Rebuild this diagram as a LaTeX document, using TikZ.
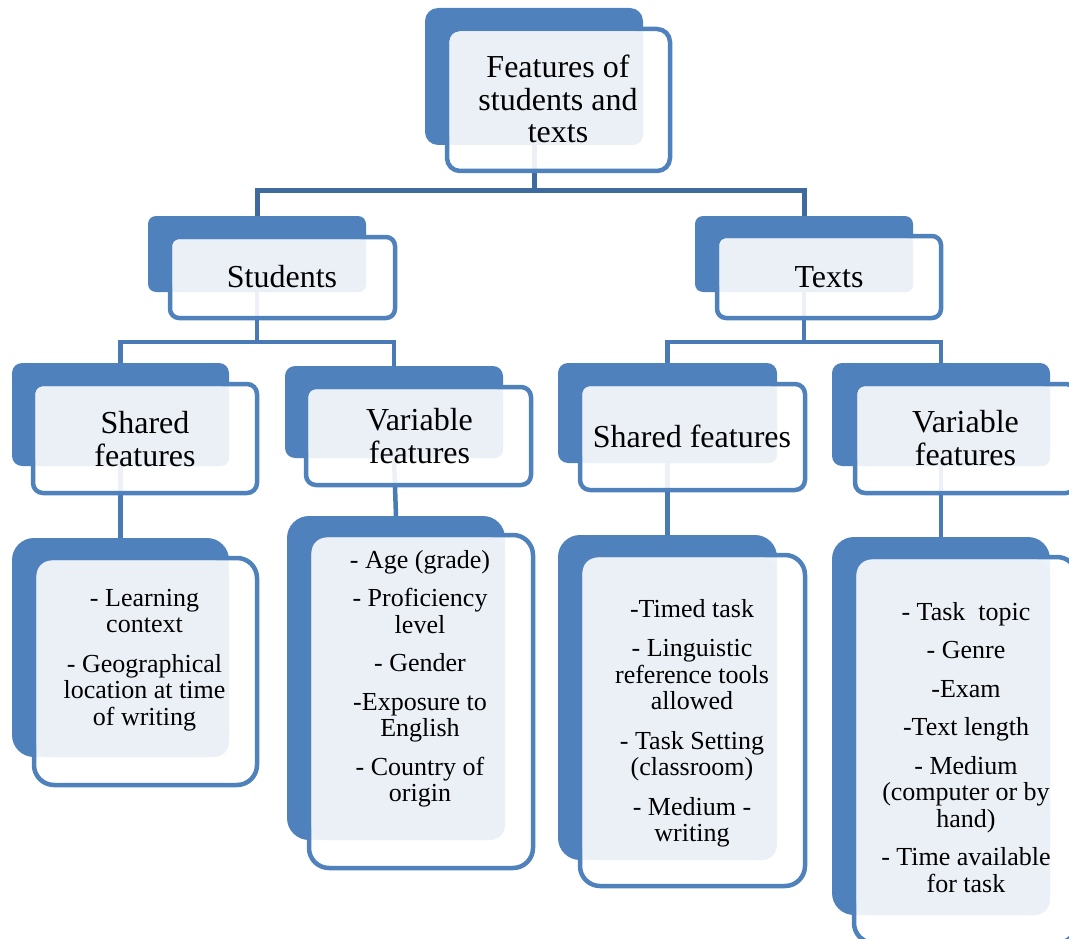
\documentclass[tikz,border=0pt]{standalone}
\usepackage{fontspec}
\setmainfont{Liberation Serif}
\usetikzlibrary{fit,backgrounds}
\definecolor{blueA}{HTML}{4F81BD}
\definecolor{lightA}{HTML}{EBF0F7}
\definecolor{connD}{HTML}{3E6A9E}
\definecolor{connL}{HTML}{4A7AB5}
\begin{document}
\begin{tikzpicture}[x=1pt,y=-1pt,
  backbox/.style={fill=blueA, inner sep=0pt, outer sep=0pt, rounded corners=#1},
  frontbox/.style={draw=blueA, line width=4.5pt, fill=white, fill opacity=0.9, inner sep=0pt, outer sep=0pt, rounded corners=#1},
  lightbox/.style={fill=lightA, inner sep=0pt, outer sep=0pt, rounded corners=#1},
  lvlA/.style={font=\fontsize{32}{32.5}\selectfont, align=center, inner sep=0pt, anchor=north},
  lvlB/.style={font=\fontsize{32}{33.5}\selectfont, align=center, inner sep=0pt, anchor=north},
  lvlC/.style={font=\fontsize{26}{26.5}\selectfont, align=center, inner sep=0pt, anchor=north},
  connA/.style={draw=connD, line width=5pt},
  connB/.style={draw=connL, line width=4.5pt}]
\useasboundingbox (0,0) rectangle (1069,939);
\clip (0,0) rectangle (1069,939);
\coordinate (h1) at (0,191);
\coordinate (h2) at (0,342);
% level 1
\node[backbox=13pt, fit={(425,8)(643,145)}] (top) {};
\node[frontbox=13pt, fit={(447,29)(670,171)}] (topF) {};
\node[lightbox=10pt, fit={(449.5,31.5)(643,145)}] (topL) {};
\node[lvlA] (topT) at (558,55) {Features of\\students and\\texts};
% level 2
\node[backbox=8pt, fit={(148,216)(366,292)}] (stud) {};
\node[frontbox=9pt, fit={(170,237)(395,318)}] (studF) {};
\node[lightbox=7pt, fit={(172.5,239.5)(366,292)}] (studL) {};
\node[lvlB] (studT) at (282,265) {Students};
\node[backbox=8pt, fit={(695,216)(913,292)}] (texts) {};
\node[frontbox=9pt, fit={(717,236)(941,318)}] (textsF) {};
\node[lightbox=7pt, fit={(719.5,238.5)(913,292)}] (textsL) {};
\node[lvlB] (textsT) at (829,266) {Texts};
% level 3
\node[backbox=10pt, fit={(12,363)(229,466)}] (sharS) {};
\node[frontbox=10pt, fit={(33,384)(257,493)}] (sharSF) {};
\node[lightbox=8pt, fit={(35.5,386.5)(229,466)}] (sharSL) {};
\node[lvlB] (sharST) at (145,411) {Shared\\features};
\node[backbox=10pt, fit={(285,366)(503,458)}] (varS) {};
\node[frontbox=10pt, fit={(306,387)(531,485)}] (varSF) {};
\node[lightbox=8pt, fit={(308.5,389.5)(503,458)}] (varSL) {};
\node[lvlB] (varST) at (419.5,408) {Variable\\features};
\node[backbox=10pt, fit={(558,363)(777,463)}] (sharT) {};
\node[frontbox=10pt, fit={(580,384)(805,490)}] (sharTF) {};
\node[lightbox=8pt, fit={(582.5,386.5)(777,463)}] (sharTL) {};
\node[lvlB] (sharTT) at (692,425) {Shared features};
\node[backbox=10pt, fit={(832,363)(1050,466)}] (varT) {};
\node[frontbox=10pt, fit={(855,384)(1076,493)}] (varTF) {};
\node[lightbox=8pt, fit={(857.5,386.5)(1050,466)}] (varTL) {};
\node[lvlB] (varTT) at (965.5,410) {Variable\\features};
% level 4
\node[backbox=22pt, fit={(12,538)(229,757)}] (learn) {};
\node[frontbox=20pt, fit={(34,558)(257,785)}] (learnF) {};
\node[lightbox=15pt, fit={(36.5,560.5)(229,757)}] (learnL) {};
\node[lvlC] (learnT) at (144.5,589) {- Learning\\context\\[13pt]- Geographical\\location at time\\of writing};
\node[backbox=22pt, fit={(287,516)(505,840)}] (age) {};
\node[frontbox=20pt, fit={(309,535)(533,868)}] (ageF) {};
\node[lightbox=15pt, fit={(311.5,537.5)(505,840)}] (ageL) {};
\node[lvlC] (ageT) at (420,550) {- Age (grade)\\[12pt]- Proficiency\\level\\[12pt]- Gender\\[12pt]-Exposure to\\English\\[12pt]- Country of\\origin};
\node[backbox=22pt, fit={(558,535)(777,860)}] (timed) {};
\node[frontbox=20pt, fit={(580,555)(805,886)}] (timedF) {};
\node[lightbox=15pt, fit={(582.5,557.5)(777,860)}] (timedL) {};
\node[lvlC] (timedT) at (692,599) {-Timed task\\[13pt]- Linguistic\\reference tools\\allowed\\[13pt]- Task Setting\\(classroom)\\[13pt]- Medium -\\writing};
\node[backbox=22pt, fit={(832,537)(1050,915)}] (topic) {};
\node[frontbox=20pt, fit={(854,557)(1077,943)}] (topicF) {};
\node[lightbox=15pt, fit={(856.5,559.5)(1050,915)}] (topicL) {};
\node[lvlC] (topicT) at (966,602) {- Task\ \ topic\\[12pt]- Genre\\[12pt]-Exam\\[12pt]-Text length\\[12pt]- Medium\\(computer or by\\hand)\\[12pt]- Time available\\for task};
% connectors
\begin{pgfonlayer}{background}
\draw[connA] (top.south) -- (top.south |- h1);
\draw[connA] (stud.north) -- (stud.north |- h1) -- (texts.north |- h1) -- (texts.north);
\draw[connB] (stud.south) -- (stud.south |- h2);
\draw[connB] (sharS.north) -- (sharS.north |- h2) -- (varS.north |- h2) -- (varS.north);
\draw[connB] (texts.south) -- (texts.south |- h2);
\draw[connB] (sharT.north) -- (sharT.north |- h2) -- (varT.north |- h2) -- (varT.north);
\draw[connB] (sharS.south) -- (learn.north);
\draw[connB] (varS.south) -- (age.north);
\draw[connB] (sharT.south) -- (timed.north);
\draw[connB] (varT.south) -- (topic.north);
\end{pgfonlayer}
\end{tikzpicture}
\end{document}
